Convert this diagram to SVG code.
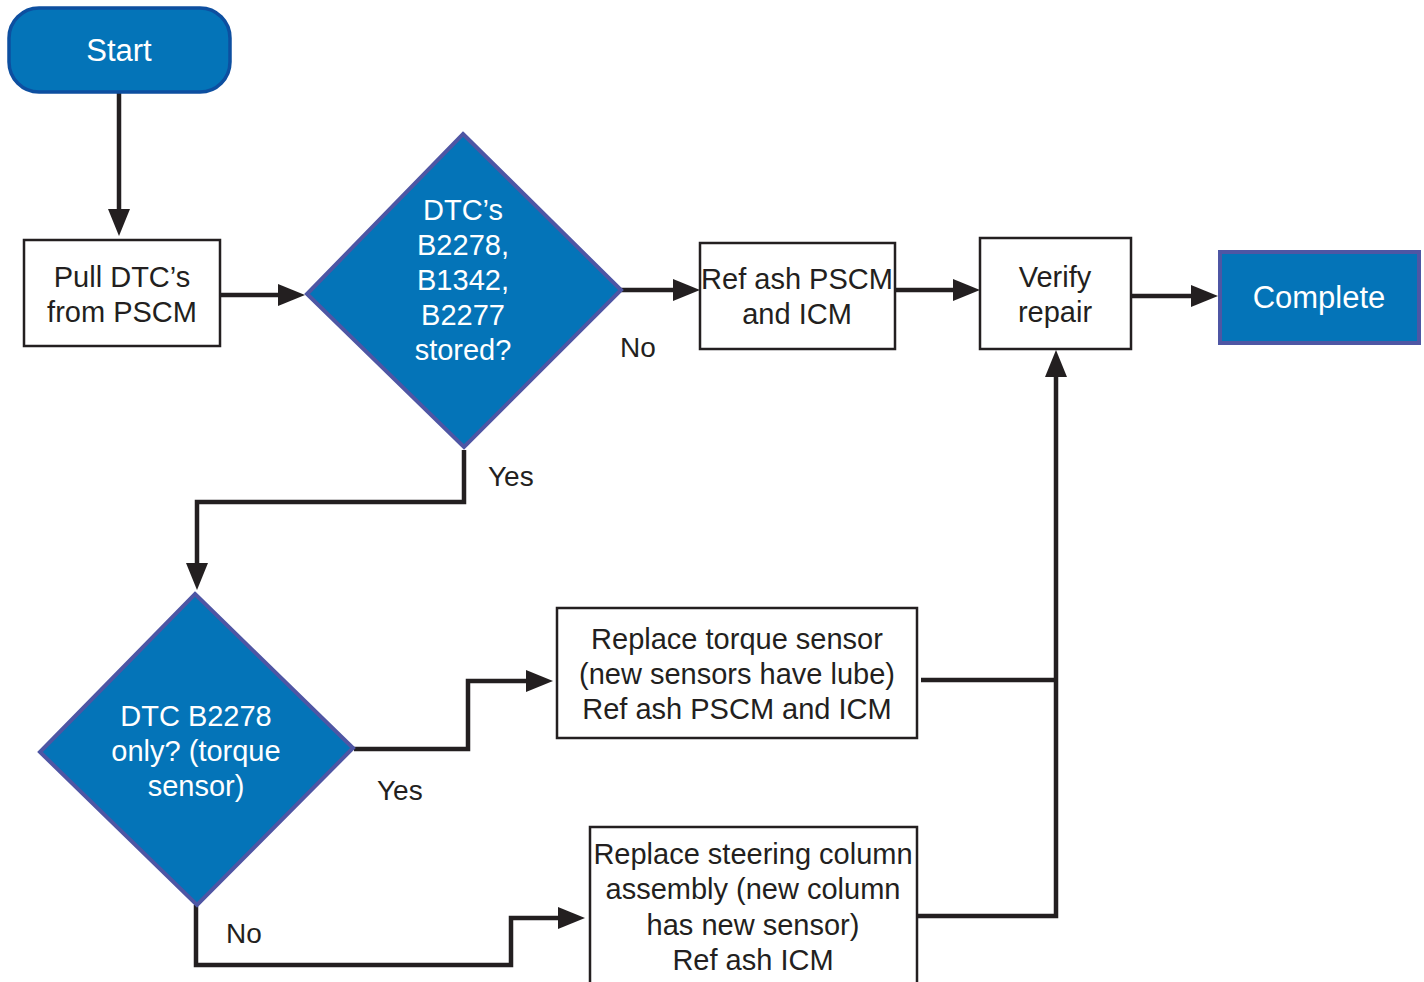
<svg xmlns="http://www.w3.org/2000/svg" width="1424" height="982" viewBox="0 0 1424 982">
<style>
.box{fill:#ffffff;stroke:#231f20;stroke-width:2.5}
.blue{fill:#0474b8;stroke:#4e56a4;stroke-width:4}
.t{font-family:"Liberation Sans",Arial,sans-serif;font-size:29px;fill:#231f20;text-anchor:middle}
.w{fill:#ffffff}
.lbl{font-family:"Liberation Sans",Arial,sans-serif;font-size:28px;fill:#231f20}
.c{fill:none;stroke:#231f20;stroke-width:4.5}
</style>
<defs>
<marker id="ah" markerUnits="userSpaceOnUse" markerWidth="28" markerHeight="22" refX="0" refY="11" orient="auto">
<path d="M0,0 L27,11 L0,22 z" fill="#231f20"/>
</marker>
</defs>
<g id="connectors">
<path class="c" d="M119,92 V209" marker-end="url(#ah)"/>
<path class="c" d="M220,295 H278" marker-end="url(#ah)"/>
<path class="c" d="M620,290 H673" marker-end="url(#ah)"/>
<path class="c" d="M895,290 H953" marker-end="url(#ah)"/>
<path class="c" d="M1131,296 H1191" marker-end="url(#ah)"/>
<path class="c" d="M464,450 V502 H197 V563" marker-end="url(#ah)"/>
<path class="c" d="M354,749 H468 V681 H526" marker-end="url(#ah)"/>
<path class="c" d="M196,905 V965 H511 V918 H558" marker-end="url(#ah)"/>
<path class="c" d="M921,680 H1056"/>
<path class="c" d="M917,916 H1056 V377" marker-end="url(#ah)"/>
<text class="lbl" x="620" y="357">No</text>
<text class="lbl" x="488" y="486">Yes</text>
<text class="lbl" x="377" y="800">Yes</text>
<text class="lbl" x="226" y="943">No</text>
</g>
<g id="start">
<rect x="9" y="8" width="221" height="84" rx="30" ry="30" fill="#0474b8" stroke="#0d4fa0" stroke-width="3.5"/>
<text class="t w" x="119" y="61" style="font-size:31px">Start</text>
</g>
<g id="pull">
<rect class="box" x="24" y="240" width="196" height="106"/>
<text class="t" x="122" y="287">Pull DTC’s</text>
<text class="t" x="122" y="322">from PSCM</text>
</g>
<g id="decision1">
<polygon class="blue" points="463,134 621,290 464,447 307,294"/>
<text class="t w" x="463" y="220">DTC’s</text>
<text class="t w" x="463" y="255">B2278,</text>
<text class="t w" x="463" y="290">B1342,</text>
<text class="t w" x="463" y="325">B2277</text>
<text class="t w" x="463" y="360">stored?</text>
</g>
<g id="reflash1">
<rect class="box" x="700" y="243" width="195" height="106"/>
<text class="t" x="797" y="289">Ref ash PSCM</text>
<text class="t" x="797" y="324">and ICM</text>
</g>
<g id="verify">
<rect class="box" x="980" y="238" width="151" height="111"/>
<text class="t" x="1055" y="287">Verify</text>
<text class="t" x="1055" y="322">repair</text>
</g>
<g id="complete">
<rect class="blue" x="1220" y="252" width="199" height="91"/>
<text class="t w" x="1319" y="308" style="font-size:31px">Complete</text>
</g>
<g id="decision2">
<polygon class="blue" points="195,594 353,748 197,905 40,752"/>
<text class="t w" x="196" y="726">DTC B2278</text>
<text class="t w" x="196" y="761">only? (torque</text>
<text class="t w" x="196" y="796">sensor)</text>
</g>
<g id="torque">
<rect class="box" x="557" y="608" width="360" height="130"/>
<text class="t" x="737" y="649">Replace torque sensor</text>
<text class="t" x="737" y="684">(new sensors have lube)</text>
<text class="t" x="737" y="719">Ref ash PSCM and ICM</text>
</g>
<g id="column">
<rect class="box" x="590" y="827" width="327" height="170"/>
<text class="t" x="753" y="864">Replace steering column</text>
<text class="t" x="753" y="899">assembly (new column</text>
<text class="t" x="753" y="935">has new sensor)</text>
<text class="t" x="753" y="970">Ref ash ICM</text>
</g>
</svg>
